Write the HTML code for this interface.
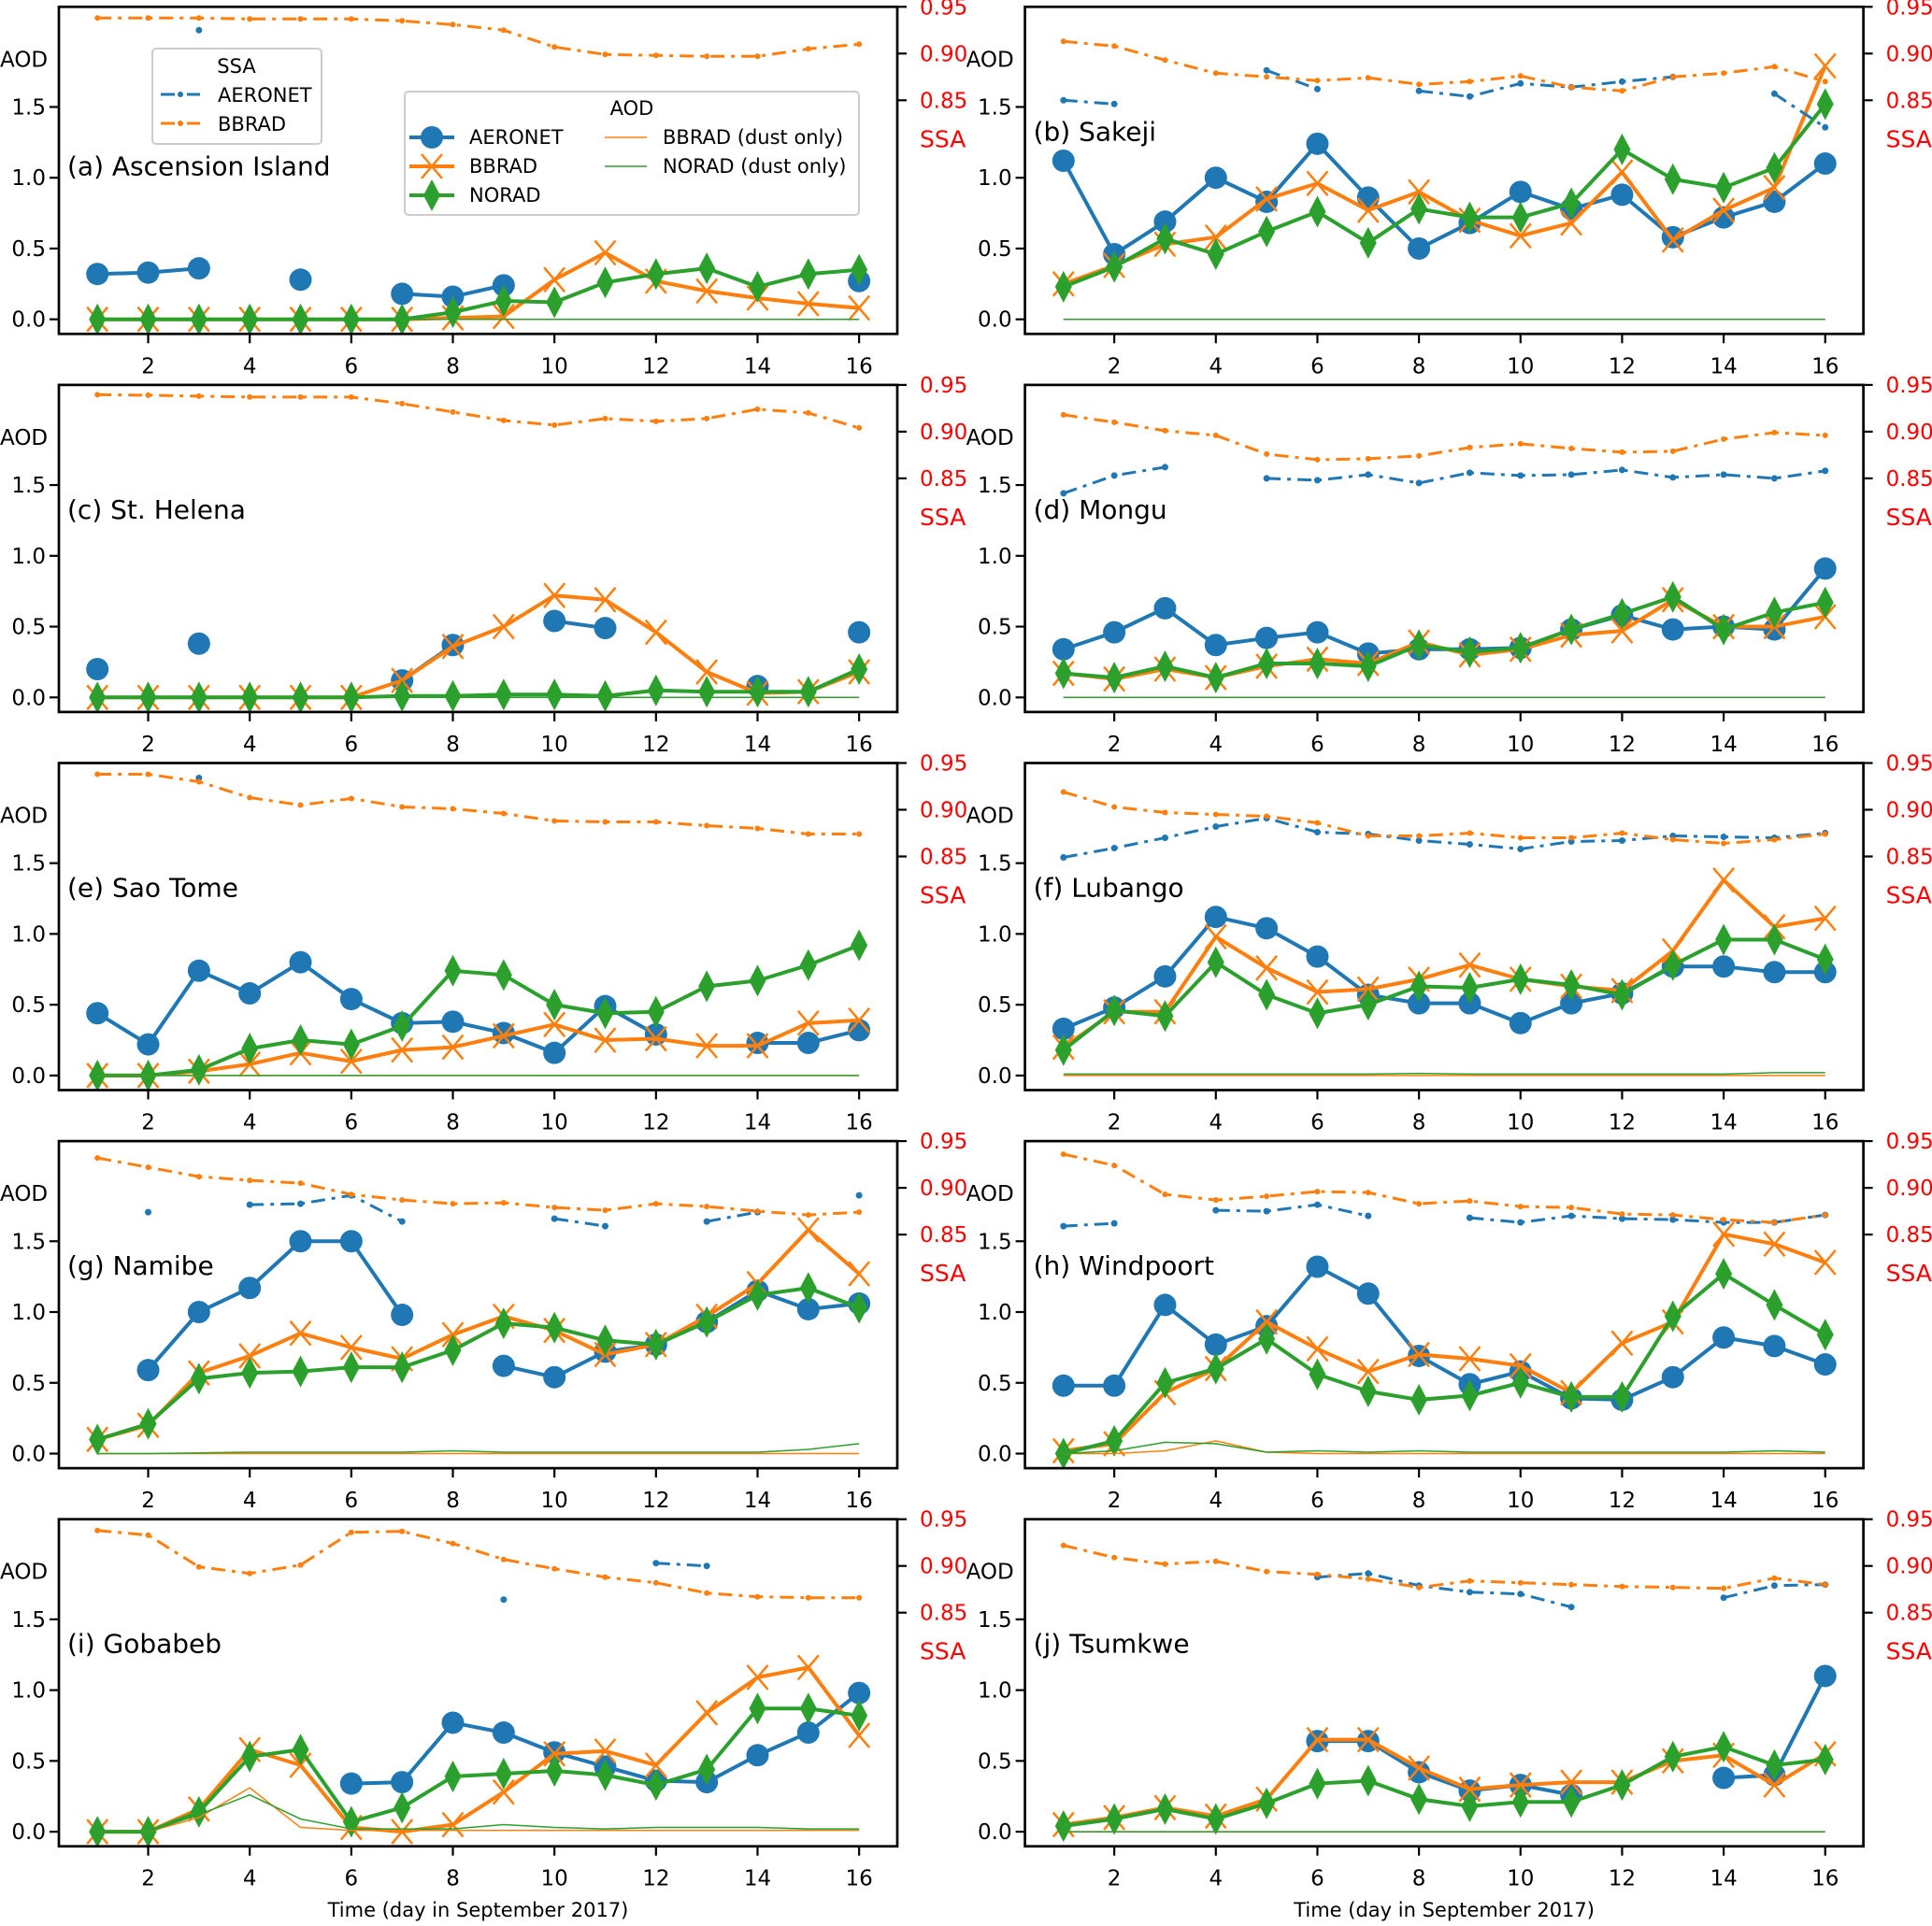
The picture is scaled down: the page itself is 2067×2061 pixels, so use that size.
<!DOCTYPE html>
<html><head><meta charset="utf-8"><style>
html,body{margin:0;padding:0;background:#fff;}
svg text{font-family:"DejaVu Sans","Liberation Sans",sans-serif;}
</style></head><body>
<svg id="fig" xmlns="http://www.w3.org/2000/svg" width="2067" height="2056" viewBox="0 0 2067 2056"></svg>
<script>
const days=[1,2,3,4,5,6,7,8,9,10,11,12,13,14,15,16];
const xTicks=[2,4,6,8,10,12,14,16];
const aodTicks=[0,0.5,1.0,1.5];
const aodTickLabels=["0.0","0.5","1.0","1.5"];
const ssaTicks=[0.85,0.90,0.95];
const ssaTickLabels=["0.85","0.90","0.95"];
const N=null;
const Z=[0,0,0,0,0,0,0,0,0,0,0,0,0,0,0,0];
// (a)
const aAer=[0.32,0.33,0.36,N,0.28,N,0.18,0.16,0.24,N,N,N,N,N,N,0.27];
const aBb=[0,0,0,0,0,0,0,0.01,0.02,0.28,0.47,0.27,0.2,0.15,0.11,0.08];
const aNo=[0,0,0,0,0,0,0,0.05,0.13,0.12,0.26,0.32,0.36,0.23,0.32,0.35];
const aSsaBb=[0.938,0.938,0.938,0.937,0.937,0.937,0.935,0.931,0.925,0.907,0.899,0.898,0.897,0.897,0.905,0.910];
const aSsaAer=[N,N,0.925,N,N,N,N,N,N,N,N,N,N,N,N,N];
// (b)
const bAer=[1.12,0.46,0.69,1.0,0.83,1.24,0.86,0.5,0.68,0.9,0.78,0.88,0.58,0.72,0.83,1.1];
const bBb=[0.25,0.38,0.53,0.58,0.85,0.96,0.77,0.9,0.7,0.59,0.68,1.04,0.56,0.77,0.93,1.79];
const bNo=[0.23,0.37,0.57,0.46,0.62,0.76,0.54,0.78,0.72,0.72,0.82,1.2,0.99,0.93,1.07,1.52];
const bSsaBb=[0.913,0.908,0.893,0.879,0.875,0.871,0.874,0.867,0.87,0.876,0.864,0.86,0.875,0.879,0.886,0.87];
const bSsaAer=[0.85,0.846,N,N,0.882,0.862,N,0.86,0.854,0.868,0.864,0.87,0.875,N,0.857,0.821];
// (c)
const cAer=[0.2,N,0.38,N,N,N,0.12,0.37,N,0.54,0.49,N,N,0.08,N,0.46];
const cBb=[0,0,0,0,0,0,0.12,0.36,0.5,0.72,0.69,0.46,0.18,0.03,0.04,0.18];
const cNo=[0,0,0,0,0,0,0.01,0.01,0.02,0.02,0.01,0.05,0.04,0.04,0.04,0.2];
const cSsaBb=[0.9395,0.939,0.938,0.937,0.937,0.937,0.930,0.921,0.912,0.907,0.914,0.911,0.914,0.924,0.920,0.904];
const cSsaAer=[N,N,N,N,N,N,N,N,N,N,N,N,N,N,N,N];
// (d)
const dAer=[0.34,0.46,0.63,0.37,0.42,0.46,0.31,0.34,0.34,0.35,0.48,0.58,0.48,0.5,0.48,0.91];
const dBb=[0.17,0.13,0.2,0.14,0.22,0.27,0.24,0.39,0.3,0.34,0.44,0.47,0.69,0.5,0.5,0.57];
const dNo=[0.17,0.14,0.22,0.14,0.24,0.24,0.22,0.37,0.32,0.35,0.48,0.59,0.71,0.48,0.6,0.67];
const dSsaBb=[0.918,0.91,0.901,0.896,0.876,0.87,0.871,0.874,0.883,0.887,0.882,0.878,0.879,0.892,0.899,0.896];
const dSsaAer=[0.834,0.853,0.862,N,0.85,0.848,0.854,0.845,0.856,0.853,0.854,0.859,0.851,0.854,0.85,0.858];
// (e)
const eAer=[0.44,0.22,0.74,0.58,0.8,0.54,0.37,0.38,0.3,0.16,0.49,0.29,N,0.23,0.23,0.32];
const eBb=[0,0,0.03,0.08,0.16,0.1,0.18,0.2,0.28,0.36,0.25,0.26,0.21,0.21,0.37,0.39];
const eNo=[0,0,0.04,0.19,0.25,0.22,0.35,0.74,0.71,0.5,0.44,0.45,0.63,0.67,0.78,0.92];
const eSsaBb=[0.938,0.938,0.930,0.913,0.905,0.912,0.903,0.901,0.896,0.888,0.887,0.887,0.883,0.88,0.874,0.874];
const eSsaAer=[N,N,0.934,N,N,N,N,N,N,N,N,N,N,N,N,N];
// (f)
const fAer=[0.33,0.48,0.7,1.12,1.04,0.84,0.57,0.51,0.51,0.37,0.51,0.58,0.77,0.77,0.73,0.73];
const fBb=[0.2,0.45,0.45,0.98,0.76,0.59,0.61,0.68,0.78,0.68,0.63,0.6,0.88,1.38,1.05,1.11];
const fNo=[0.18,0.46,0.42,0.8,0.57,0.44,0.5,0.63,0.62,0.68,0.64,0.57,0.78,0.96,0.96,0.82];
const fDustNo=[0.01,0.01,0.01,0.01,0.01,0.01,0.01,0.015,0.01,0.01,0.01,0.01,0.01,0.01,0.02,0.02];
const fSsaBb=[0.919,0.903,0.897,0.895,0.893,0.886,0.872,0.872,0.875,0.87,0.87,0.875,0.868,0.864,0.868,0.874];
const fSsaAer=[0.849,0.859,0.87,0.882,0.891,0.876,0.874,0.867,0.863,0.858,0.866,0.867,0.872,0.871,0.87,0.875];
// (g)
const gAer=[N,0.59,1.0,1.17,1.5,1.5,0.98,N,0.62,0.54,0.72,0.77,0.93,1.15,1.02,1.06];
const gBb=[0.1,0.2,0.57,0.69,0.85,0.75,0.67,0.84,0.97,0.87,0.7,0.77,0.97,1.2,1.58,1.27];
const gNo=[0.1,0.21,0.53,0.57,0.58,0.61,0.61,0.73,0.92,0.89,0.8,0.77,0.93,1.12,1.17,1.03];
const gDustNo=[0,0,0.005,0.01,0.01,0.01,0.01,0.02,0.01,0.01,0.01,0.01,0.01,0.01,0.03,0.07];
const gSsaBb=[0.932,0.922,0.912,0.908,0.905,0.893,0.887,0.883,0.884,0.879,0.876,0.883,0.88,0.875,0.871,0.874];
const gSsaAer=[N,0.874,N,0.882,0.883,0.892,0.864,N,N,0.867,0.859,N,0.864,0.874,N,0.892];
// (h)
const hAer=[0.48,0.48,1.05,0.77,0.9,1.32,1.13,0.69,0.49,0.58,0.39,0.38,0.54,0.82,0.76,0.63];
const hBb=[0.02,0.07,0.43,0.6,0.93,0.74,0.58,0.7,0.67,0.62,0.43,0.78,0.93,1.55,1.48,1.35];
const hNo=[0,0.09,0.5,0.6,0.81,0.56,0.44,0.38,0.41,0.5,0.4,0.4,0.97,1.27,1.05,0.84];
const hDustBb=[0,0,0.02,0.09,0.01,0,0,0,0,0,0,0,0,0,0,0];
const hDustNo=[0,0.02,0.08,0.07,0.01,0.02,0.01,0.02,0.01,0.01,0.01,0.01,0.01,0.01,0.02,0.01];
const hSsaBb=[0.936,0.924,0.893,0.887,0.891,0.896,0.895,0.883,0.886,0.88,0.879,0.872,0.871,0.866,0.863,0.871];
const hSsaAer=[0.859,0.862,N,0.876,0.875,0.882,0.87,N,0.868,0.863,0.87,0.867,0.866,0.863,0.863,0.871];
// (i)
const iAer=[N,N,N,N,N,0.34,0.35,0.77,0.7,0.56,0.46,0.36,0.35,0.54,0.7,0.98];
const iBb=[0,0,0.16,0.58,0.47,0.03,0,0.05,0.28,0.55,0.57,0.47,0.84,1.09,1.16,0.68];
const iNo=[0,0,0.14,0.53,0.58,0.07,0.17,0.39,0.41,0.43,0.4,0.33,0.44,0.87,0.87,0.82];
const iDustBb=[0,0,0.1,0.31,0.03,0.01,0.01,0.01,0.01,0.01,0.01,0.01,0.01,0.01,0.01,0.01];
const iDustNo=[0,0,0.12,0.26,0.09,0.02,0.02,0.02,0.05,0.03,0.02,0.03,0.03,0.03,0.02,0.02];
const iSsaBb=[0.938,0.933,0.899,0.892,0.901,0.936,0.937,0.924,0.907,0.897,0.888,0.882,0.871,0.867,0.866,0.866];
const iSsaAer=[N,N,N,N,N,N,N,N,0.864,N,N,0.903,0.9,N,N,N];
// (j)
const jAer=[N,N,N,N,N,0.64,0.64,0.42,0.29,0.33,0.26,N,N,0.38,0.4,1.1];
const jBb=[0.05,0.1,0.17,0.11,0.23,0.65,0.65,0.45,0.3,0.33,0.35,0.35,0.5,0.54,0.33,0.55];
const jNo=[0.04,0.09,0.16,0.09,0.2,0.34,0.36,0.23,0.18,0.21,0.21,0.33,0.53,0.6,0.47,0.51];
const jSsaBb=[0.922,0.909,0.902,0.905,0.894,0.891,0.886,0.877,0.884,0.882,0.88,0.878,0.877,0.876,0.887,0.88];
const jSsaAer=[N,N,N,N,N,0.888,0.892,0.879,0.872,0.87,0.856,N,N,0.866,0.879,0.88];

const panels=[
 {id:'a',label:'(a) Ascension Island',aer:aAer,bb:aBb,no:aNo,dbb:Z,dno:Z,sbb:aSsaBb,sae:aSsaAer},
 {id:'b',label:'(b) Sakeji',aer:bAer,bb:bBb,no:bNo,dbb:Z,dno:Z,sbb:bSsaBb,sae:bSsaAer},
 {id:'c',label:'(c) St. Helena',aer:cAer,bb:cBb,no:cNo,dbb:Z,dno:Z,sbb:cSsaBb,sae:cSsaAer},
 {id:'d',label:'(d) Mongu',aer:dAer,bb:dBb,no:dNo,dbb:Z,dno:Z,sbb:dSsaBb,sae:dSsaAer},
 {id:'e',label:'(e) Sao Tome',aer:eAer,bb:eBb,no:eNo,dbb:Z,dno:Z,sbb:eSsaBb,sae:eSsaAer},
 {id:'f',label:'(f) Lubango',aer:fAer,bb:fBb,no:fNo,dbb:Z,dno:fDustNo,sbb:fSsaBb,sae:fSsaAer},
 {id:'g',label:'(g) Namibe',aer:gAer,bb:gBb,no:gNo,dbb:Z,dno:gDustNo,sbb:gSsaBb,sae:gSsaAer},
 {id:'h',label:'(h) Windpoort',aer:hAer,bb:hBb,no:hNo,dbb:hDustBb,dno:hDustNo,sbb:hSsaBb,sae:hSsaAer},
 {id:'i',label:'(i) Gobabeb',aer:iAer,bb:iBb,no:iNo,dbb:iDustBb,dno:iDustNo,sbb:iSsaBb,sae:iSsaAer},
 {id:'j',label:'(j) Tsumkwe',aer:jAer,bb:jBb,no:jNo,dbb:Z,dno:Z,sbb:jSsaBb,sae:jSsaAer}
];
const BLUE='#1f77b4',ORANGE='#ff7f0e',GREEN='#2ca02c';
const svg=document.getElementById('fig');
const NS='http://www.w3.org/2000/svg';
function mk(tag,attrs,parent){const e=document.createElementNS(NS,tag);for(const k in attrs)e.setAttribute(k,attrs[k]);(parent||svg).appendChild(e);return e;}
function txt(s,attrs,parent){const e=mk('text',attrs,parent);e.textContent=s;return e;}

const PW=897,PH=350,COLX=[63,1096.6],ROW0=7.3,ROWSTEP=404.6;
const AOD0=334.4,AODU=151.5;

panels.forEach((p,k)=>{
 const L=COLX[k%2],T=ROW0+Math.floor(k/2)*ROWSTEP;
 const xs=d=>L+41.2+(d-1)*54.33;
 const ya=v=>T+AOD0-v*AODU;
 const ys=v=>T+(0.95-v)*1000;
 const g=mk('g',{});
 
 
 xTicks.forEach(t=>{
  const tl=mk('line',{x1:xs(t),x2:xs(t),y1:T+PH,y2:T+PH+10,stroke:'#000','stroke-width':2.2},g);
  
  
  const tx=txt(String(t),{x:xs(t),y:T+PH+42,'font-size':23,'text-anchor':'middle'},g);
  
  
 });
 aodTicks.forEach((t,i)=>{
  mk('line',{x1:L-10,x2:L,y1:ya(t),y2:ya(t),stroke:'#000','stroke-width':2.2},g);
  const tx=txt(aodTickLabels[i],{x:L-14,y:ya(t)+8,'font-size':23,'text-anchor':'end'},g);
  
  
 });
 ssaTicks.forEach((t,i)=>{
  mk('line',{x1:L+PW,x2:L+PW+10,y1:ys(t),y2:ys(t),stroke:'#000','stroke-width':2.2},g);
  const tx=txt(ssaTickLabels[i],{x:L+PW+24,y:ys(t)+8,'font-size':23,fill:'#ff0000'},g);
  
  
 });
 const yl=txt('AOD',{x:L-63,y:T+64,'font-size':23},g);
 
 
 const sl=txt('SSA',{x:L+PW+24,y:T+150,'font-size':25,fill:'#ff0000'},g);
 
 
 function segs(arr,fy){const out=[];let cur=[];arr.forEach((v,i)=>{if(v===null){if(cur.length)out.push(cur);cur=[];}else cur.push([xs(days[i]),fy(v)]);});if(cur.length)out.push(cur);return out;}
 function line(arr,fy,col,w,dash,name){segs(arr,fy).forEach(s=>{if(s.length<2)return;const pl=mk('polyline',{points:s.map(q=>q.join(',')).join(' '),fill:'none',stroke:col,'stroke-width':w,'stroke-linejoin':'round','stroke-dasharray':dash||'none'},g);});}
 line(p.aer,ya,BLUE,4,null,'aeronet-aod-line');
 p.aer.forEach((v,i)=>{if(v===null)return;const c=mk('circle',{cx:xs(days[i]),cy:ya(v),r:12,fill:BLUE},g);});
 line(p.bb,ya,ORANGE,4,null,'bbrad-aod-line');
 p.bb.forEach((v,i)=>{if(v===null)return;const x=xs(days[i]),y=ya(v);const m=mk('path',{d:`M${x-11},${y-13}L${x+11},${y+13}M${x-11},${y+13}L${x+11},${y-13}`,stroke:ORANGE,'stroke-width':2.5,fill:'none'},g);});
 line(p.no,ya,GREEN,4,null,'norad-aod-line');
 p.no.forEach((v,i)=>{if(v===null)return;const x=xs(days[i]),y=ya(v);const m=mk('path',{d:`M${x},${y-17}L${x+9},${y}L${x},${y+17}L${x-9},${y}Z`,fill:GREEN},g);});
 line(p.dbb,ya,ORANGE,1.5,null,'bbrad-dust-line');
 line(p.dno,ya,GREEN,1.5,null,'norad-dust-line');
 line(p.sae,ys,BLUE,3,'15,7,4,7','aeronet-ssa-line');
 p.sae.forEach((v,i)=>{if(v===null)return;const c=mk('circle',{cx:xs(days[i]),cy:ys(v),r:3.5,fill:BLUE},g);});
 line(p.sbb,ys,ORANGE,3,'15,7,4,7','bbrad-ssa-line');
 p.sbb.forEach((v,i)=>{if(v===null)return;const c=mk('circle',{cx:xs(days[i]),cy:ys(v),r:3,fill:ORANGE},g);});
 const fr=mk('rect',{x:L,y:T,width:PW,height:PH,fill:'none',stroke:'#000','stroke-width':2.7},g);
 
 
 const lb=txt(p.label,{x:L+9,y:T+(k===0?180:143),'font-size':28},g);
 
 
});

[0,1].forEach(c=>{
 const t=txt('Time (day in September 2017)',{x:COLX[c]+PW/2,y:2051,'font-size':21,'text-anchor':'middle'});
 
 
});

const lg1=mk('g',{});


mk('rect',{x:163,y:52,width:181,height:102,rx:4,fill:'#fff','fill-opacity':0.8,stroke:'#ccc','stroke-width':2},lg1);
txt('SSA',{x:253,y:78,'font-size':21,'text-anchor':'middle'},lg1);
[['AERONET',BLUE,109],['BBRAD',ORANGE,140]].forEach(([n,c,y])=>{
 mk('line',{x1:172,x2:214,y1:y-8,y2:y-8,stroke:c,'stroke-width':3,'stroke-dasharray':'15,5,3,5'},lg1);
 mk('circle',{cx:193,cy:y-8,r:3,fill:c},lg1);
 const t=txt(n,{x:233,y:y,'font-size':21},lg1);
 
 
});
const lg2=mk('g',{});


mk('rect',{x:433,y:98,width:486,height:132,rx:4,fill:'#fff','fill-opacity':0.8,stroke:'#ccc','stroke-width':2},lg2);
txt('AOD',{x:676,y:123,'font-size':21,'text-anchor':'middle'},lg2);
const e1=[['AERONET',154],['BBRAD',185],['NORAD',216]];
e1.forEach(([n,y],i)=>{
 const col=[BLUE,ORANGE,GREEN][i];
 mk('line',{x1:438,x2:486,y1:y-7,y2:y-7,stroke:col,'stroke-width':4},lg2);
 const x=462,yy=y-7;
 if(i===0)mk('circle',{cx:x,cy:yy,r:12,fill:BLUE},lg2);
 if(i===1)mk('path',{d:`M${x-11},${yy-13}L${x+11},${yy+13}M${x-11},${yy+13}L${x+11},${yy-13}`,stroke:ORANGE,'stroke-width':2.5},lg2);
 if(i===2)mk('path',{d:`M${x},${yy-17}L${x+9},${yy}L${x},${yy+17}L${x-9},${yy}Z`,fill:GREEN},lg2);
 const t=txt(n,{x:502,y:y,'font-size':21},lg2);
 
 
});
[['BBRAD (dust only)',ORANGE,154],['NORAD (dust only)',GREEN,185]].forEach(([n,c,y])=>{
 mk('line',{x1:647,x2:692,y1:y-7,y2:y-7,stroke:c,'stroke-width':1.5},lg2);
 const t=txt(n,{x:709,y:y,'font-size':21},lg2);
 
 
});
</script>
</body></html>
